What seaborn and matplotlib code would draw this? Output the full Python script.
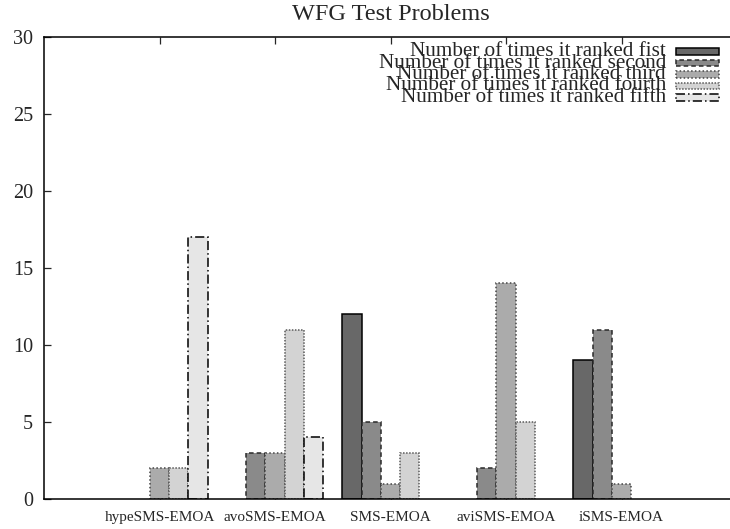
import numpy as np
import pandas as pd
import matplotlib
matplotlib.use("Agg")
import matplotlib.pyplot as plt
import seaborn as sns
from matplotlib.patches import Rectangle

# ---- data ----
algorithms = ["hypeSMS-EMOA", "avoSMS-EMOA", "SMS-EMOA", "aviSMS-EMOA", "iSMS-EMOA"]
rank_labels = [
    "Number of times it ranked fist",
    "Number of times it ranked second",
    "Number of times it ranked third",
    "Number of times it ranked fourth",
    "Number of times it ranked fifth",
]
ranked_first = [0, 0, 12, 0, 9]
ranked_second = [0, 3, 5, 2, 11]
ranked_third = [2, 3, 1, 14, 1]
ranked_fourth = [2, 11, 3, 5, 0]
ranked_fifth = [17, 4, 0, 0, 0]
y_ticks = [0, 5, 10, 15, 20, 25, 30]

rows = []
for label, counts in zip(rank_labels, [ranked_first, ranked_second, ranked_third,
                                        ranked_fourth, ranked_fifth]):
    for alg, c in zip(algorithms, counts):
        rows.append({"algorithm": alg, "rank": label, "count": c})
df = pd.DataFrame(rows)

# gnuplot-like grey fills and edge patterns
fills = ["#686868", "#8a8a8a", "#ababab", "#d3d3d3", "#e6e6e6"]
edges = [
    ("#000000", "-"),
    ("#2a2a2a", (0, (3, 2))),
    ("#444444", (0, (1, 1.5))),
    ("#5a5a5a", (0, (1, 1))),
    ("#000000", (0, (6, 2, 1, 2))),
]

sns.set_style("ticks")
plt.rcParams["font.family"] = ["Liberation Serif", "DejaVu Serif"]

W, H = 730, 529
fig = plt.figure(figsize=(W / 100, H / 100), dpi=100)
left_px, right_px, top_px, bottom_px = 44, 737, 37, 499
ax = fig.add_axes([left_px / W, (H - bottom_px) / H,
                   (right_px - left_px) / W, (bottom_px - top_px) / H])

sns.barplot(data=df, x="algorithm", y="count", hue="rank", order=algorithms,
            hue_order=rank_labels, palette=fills, width=5 / 6, gap=0,
            saturation=1, errorbar=None, legend=False, ax=ax)

for container, (ec, ls) in zip(ax.containers, edges):
    for bar in container:
        if bar.get_height() == 0:
            bar.set_visible(False)
            continue
        bar.set_edgecolor(ec)
        bar.set_linestyle(ls)
        bar.set_linewidth(1.1)

ax.set_xlim(-1, 5)
ax.set_ylim(0, 30)
ax.set_yticks(y_ticks)
ax.set_xlabel("")
ax.set_ylabel("")
ax.set_title("WFG Test Problems", fontsize=17.5, pad=12)

for side in ["left", "bottom", "top", "right"]:
    ax.spines[side].set_linewidth(1.1)
    ax.spines[side].set_color("black")
ax.tick_params(axis="y", direction="in", length=5, width=0.9, labelsize=14.5,
               pad=8, right=True)
ax.tick_params(axis="x", direction="in", length=5, width=0.9, labelsize=11,
               pad=8.5, top=True)

# ---- manual legend (gnuplot style, tightly stacked, right aligned) ----
def fx(px):
    return px / W


def fy(py):
    return 1 - py / H


baselines = [56, 67.5, 79, 90.5, 102]
for i, label in enumerate(rank_labels):
    fig.text(fx(666), fy(baselines[i]), label, ha="right", va="baseline",
             fontsize=15.2)
    ec, ls = edges[i]
    fig.patches.append(Rectangle((fx(676), fy(baselines[i] - 1.5)),
                                 fx(719) - fx(676), 6.5 / H,
                                 transform=fig.transFigure, facecolor=fills[i],
                                 edgecolor=ec, linestyle=ls, linewidth=1.1))

fig.savefig("out.png", dpi=100)
